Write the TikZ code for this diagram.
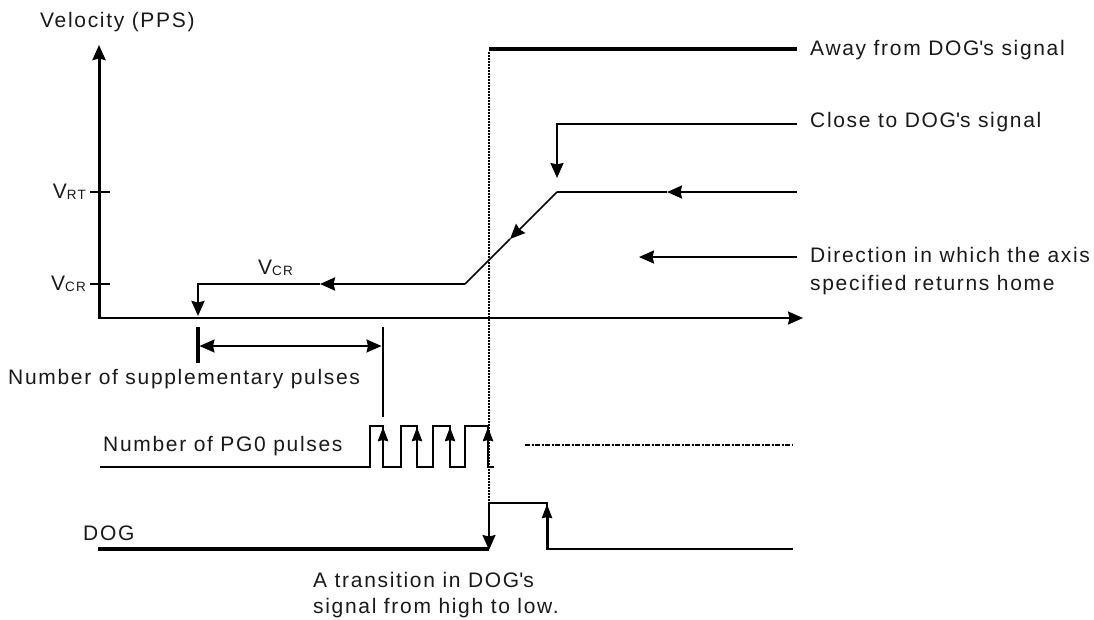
\documentclass[tikz,border=0pt]{standalone}
\usepackage{fontspec}
\setmainfont{Liberation Sans}[LetterSpace=8]
\usetikzlibrary{arrows.meta}
\tikzset{
  arr/.style={-{Stealth[length=15pt,width=13pt,inset=1.5pt]}},
  darr/.style={{Stealth[length=15pt,width=13pt,inset=1.5pt]}-{Stealth[length=15pt,width=13pt,inset=1.5pt]}},
  sarr/.style={-{Stealth[length=14pt,width=10pt,inset=1pt]}},
  lbl/.style={inner sep=0pt, font=\fontsize{21}{26}\selectfont, text=black!90},
  sig/.style={line width=2.2pt, line join=miter},
  thin sig/.style={line width=1.4pt, line join=miter},
}
\newcommand{\subx}[1]{{\fontsize{13.5}{13.5}\selectfont\raisebox{-1.5pt}{#1}}}
\newcommand{\apos}{\textquotesingle}
\begin{document}
\begin{tikzpicture}[x=1pt,y=-1pt]
\useasboundingbox (0,0) rectangle (1094,619);
% axes
\coordinate (o) at (99,318);
\coordinate (ytop) at (99,45);
\coordinate (xend) at (803,318);
\draw[line width=3pt,arr] (o) -- (ytop);
\draw[line width=2pt,arr] (97.5,318) -- (xend);
\draw[line width=2.2pt] (90,192) coordinate (trt) -- (110,192);
\draw[line width=2.2pt] (90,284) coordinate (tcr) -- (110,284);
\node[lbl, anchor=west] (vel) at (40,22) {Velocity (PPS)};
\node[lbl, anchor=east] (vrt) at (86,192) {V\subx{RT}};
\node[lbl, anchor=east] (vcr) at (86,284) {V\subx{CR}};
\node[lbl, anchor=west] (vcr2) at (258,268) {V\subx{CR}};
% away signal
\coordinate (a1) at (489,49);
\coordinate (a2) at (797,49);
\draw[line width=4.5pt] (a1) -- (a2);
\node[lbl, anchor=west] (away) at (810,50) {Away from DOG\apos s signal};
% dotted vertical
\coordinate (d1) at (489,503);
\draw[line width=1.7pt, dash pattern=on 1.6pt off 1.4pt] (489,52) -- (d1);
% close signal
\coordinate (c1) at (797,124);
\coordinate (c2) at (557,124);
\coordinate (c3) at (557,178);
\draw[sig,arr] (c1) -- (c2) -- (c3);
\node[lbl, anchor=west] (close) at (810,122) {Close to DOG\apos s signal};
% velocity profile
\coordinate (r1) at (797,192);
\coordinate (rm) at (667,192);
\coordinate (r2) at (557,192);
\coordinate (rr) at (510,239);
\coordinate (r3) at (465,284);
\coordinate (cm) at (320,284);
\coordinate (r4) at (198,284);
\coordinate (r5) at (198,316);
\draw[sig,arr] (r1) -- (rm);
\draw[sig] (rm) -- (r2);
\draw[line width=1.7pt,arr] (r2) -- (rr);
\draw[line width=1.7pt] (rr) -- (r3);
\draw[line width=2.7pt,arr] (r3) -- (cm);
\draw[line width=2.7pt,arr] (cm) -- (r4) -- (r5);
% direction
\coordinate (dr1) at (797,257);
\coordinate (dr2) at (639,257);
\draw[sig,arr] (dr1) -- (dr2);
\node[lbl, anchor=west, align=left] (dir) at (810,271) {Direction in which the axis\\[2pt]specified returns home};
% supplementary pulses
\coordinate (s1) at (198,327);
\coordinate (s2) at (198,363);
\coordinate (s3) at (383,327);
\coordinate (s4) at (383,417);
\draw[line width=3.2pt] (s1) -- (s2);
\draw[line width=2.7pt] (s3) -- (s4);
\draw[line width=1.8pt,darr] (199.5,346) -- (381.5,346);
\node[lbl, anchor=west] (supp) at (8,379) {Number of supplementary pulses};
% PG0 pulses
\node[lbl, anchor=west] (pg0) at (103,446) {Number of PG0 pulses};
\draw[thin sig] (100,467) -- (370,467) -- (370,426) -- (383,426) -- (383,467)
  -- (401,467) -- (401,426) -- (417,426) -- (417,467)
  -- (433,467) -- (433,426) -- (450,426) -- (450,467)
  -- (465,467) -- (465,426) -- (488,426) -- (488,467) -- (494,467);
\foreach \px in {383,417,450,488}{
  \draw[line width=2.8pt,sarr] (\px,467) -- (\px,427);
}
\draw[line width=1.6pt, dash pattern=on 5pt off 1.5pt on 2pt off 1.5pt] (525,445) coordinate (dl1) -- (793,445) coordinate (dl2);
% DOG
\node[lbl, anchor=west] (dog) at (83,533) {DOG};
\coordinate (g1) at (98,549);
\coordinate (g2) at (489,549);
\coordinate (g3) at (547,503);
\coordinate (g4) at (547,549);
\coordinate (g5) at (793,549);
\draw[line width=4pt] (g1) -- (g2);
\draw[line width=1.7pt,arr] (d1) -- (489,550);
\draw[thin sig] (d1) -- (g3) -- (g4) -- (g5);
\draw[line width=3pt,sarr] (g4) -- (547,504);
\node[lbl, anchor=west, align=left] (trans) at (313,595) {A transition in DOG\apos s\\signal from high to low.};
\end{tikzpicture}
\end{document}
